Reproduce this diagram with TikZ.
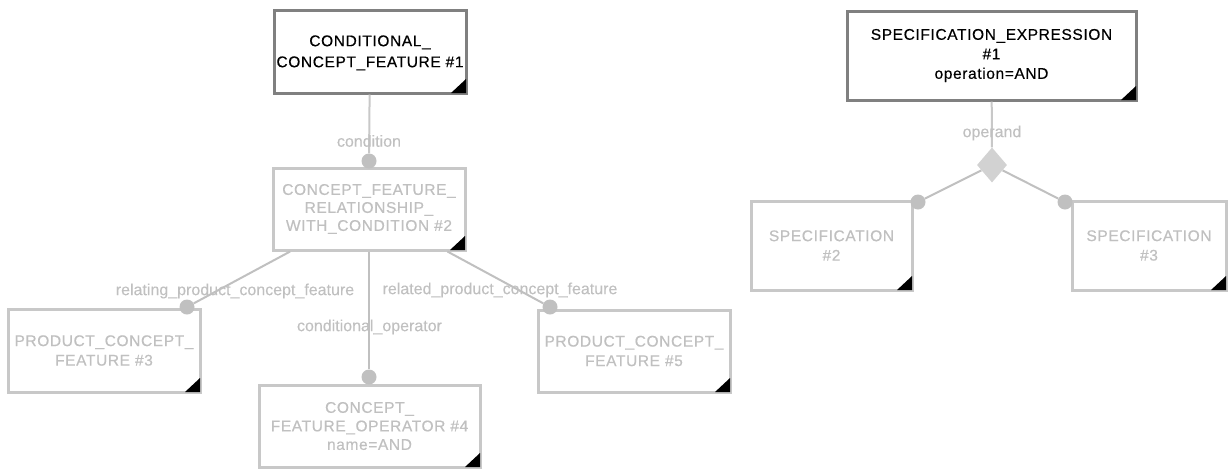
\documentclass[tikz,border=0pt]{standalone}
\usepackage{fontspec}
\setmainfont{Liberation Sans}
\newfontfamily\boxfont[LetterSpace=4,FakeBold=0.4]{Liberation Sans}
\newfontfamily\labelfont[FakeBold=0.2]{Liberation Sans}
\usetikzlibrary{shapes.geometric}
\definecolor{darkborder}{RGB}{128,128,128}
\definecolor{lightborder}{RGB}{200,200,200}
\definecolor{lighttext}{RGB}{192,192,192}
\definecolor{linegray}{RGB}{192,192,192}
\definecolor{dotgray}{RGB}{192,192,192}
\definecolor{diamondgray}{RGB}{210,210,210}
\tikzset{
  entity/.style={draw, line width=3pt, fill=white, align=center, inner sep=0pt,
    font=\boxfont\fontsize{15.5}{19.5}\selectfont},
  mainbox/.style={entity, draw=darkborder, text=black},
  subbox/.style={entity, draw=lightborder, text=lighttext},
  dot/.style={circle, fill=dotgray, minimum size=15pt, inner sep=0pt},
  conn/.style={draw=linegray, line width=2pt},
  toplink/.style={draw=lightborder, line width=2pt},
  rolelabel/.style={text=lighttext, font=\labelfont\fontsize{16}{18}\selectfont, inner sep=0pt},
  choice/.style={diamond, fill=diamondgray, minimum width=30pt, minimum height=35pt, inner sep=0pt, aspect=0.85}
}
\newcommand\cornermark[1]{\fill ([shift={(-1.5pt,1.5pt)}]#1.south east) -- ++(-15,0) -- ++(15,-14) -- cycle;}
\begin{document}
\begin{tikzpicture}[x=1pt,y=-1pt]
\useasboundingbox (0,0) rectangle (1228,472);
% left graph
\node[mainbox, minimum width=192pt, minimum height=83pt] (b1) at (370,51.5) {\\[-6pt]CONDITIONAL\_\\[1.5pt]CONCEPT\_FEATURE \#1};
\node[subbox, minimum width=192pt, minimum height=82pt] (b2) at (369,209) {CONCEPT\_FEATURE\_\\[-1.5pt]RELATIONSHIP\_\\[-1.5pt]WITH\_CONDITION \#2};
\node[subbox, minimum width=192pt, minimum height=83pt] (b3) at (104,350.5) {PRODUCT\_CONCEPT\_\\FEATURE \#3};
\node[subbox, minimum width=221pt, minimum height=82pt] (b4) at (369.5,426) {CONCEPT\_\\[-1pt]FEATURE\_OPERATOR \#4\\[-1pt]name=AND};
\node[subbox, minimum width=192pt, minimum height=82pt] (b5) at (634,351) {PRODUCT\_CONCEPT\_\\FEATURE \#5};
\node[dot] (d2) at (369,161) {};
\node[dot] (d3) at (187,307) {};
\node[dot] (d4) at (369,377) {};
\node[dot] (d5) at (550,307) {};
\path[toplink] (b1) -- (d2);
\path[conn] (b2) -- (d3);
\path[conn] (b2) -- (d4);
\path[conn] (b2) -- (d5);
\node[rolelabel] (l2) at (369,141) {condition};
\node[rolelabel] (l3) at (235,291) {relating\_product\_concept\_feature};
\node[rolelabel] (l5) at (500,290) {related\_product\_concept\_feature};
\node[rolelabel] (l4) at (369.5,327) {conditional\_operator};
\foreach \b in {b1,b2,b3,b4,b5} {\cornermark{\b}}
% right graph
\node[mainbox, minimum width=289pt, minimum height=89pt] (s1) at (991.5,55.5) {SPECIFICATION\_EXPRESSION\\\#1\\operation=AND};
\node[subbox, minimum width=161pt, minimum height=89pt] (s2) at (831.5,245.5) {SPECIFICATION\\\#2};
\node[subbox, minimum width=154pt, minimum height=89pt] (s3) at (1149,245.5) {SPECIFICATION\\\#3};
\node[choice] (dm) at (992,165) {};
\node[dot] (ds2) at (918,202) {};
\node[dot] (ds3) at (1065,202) {};
\path[toplink] (s1) -- (dm);
\path[conn] (dm) -- (ds2);
\path[conn] (dm) -- (ds3);
\node[rolelabel] (lo) at (992,133) {operand};
\foreach \b in {s1,s2,s3} {\cornermark{\b}}
\end{tikzpicture}
\end{document}
